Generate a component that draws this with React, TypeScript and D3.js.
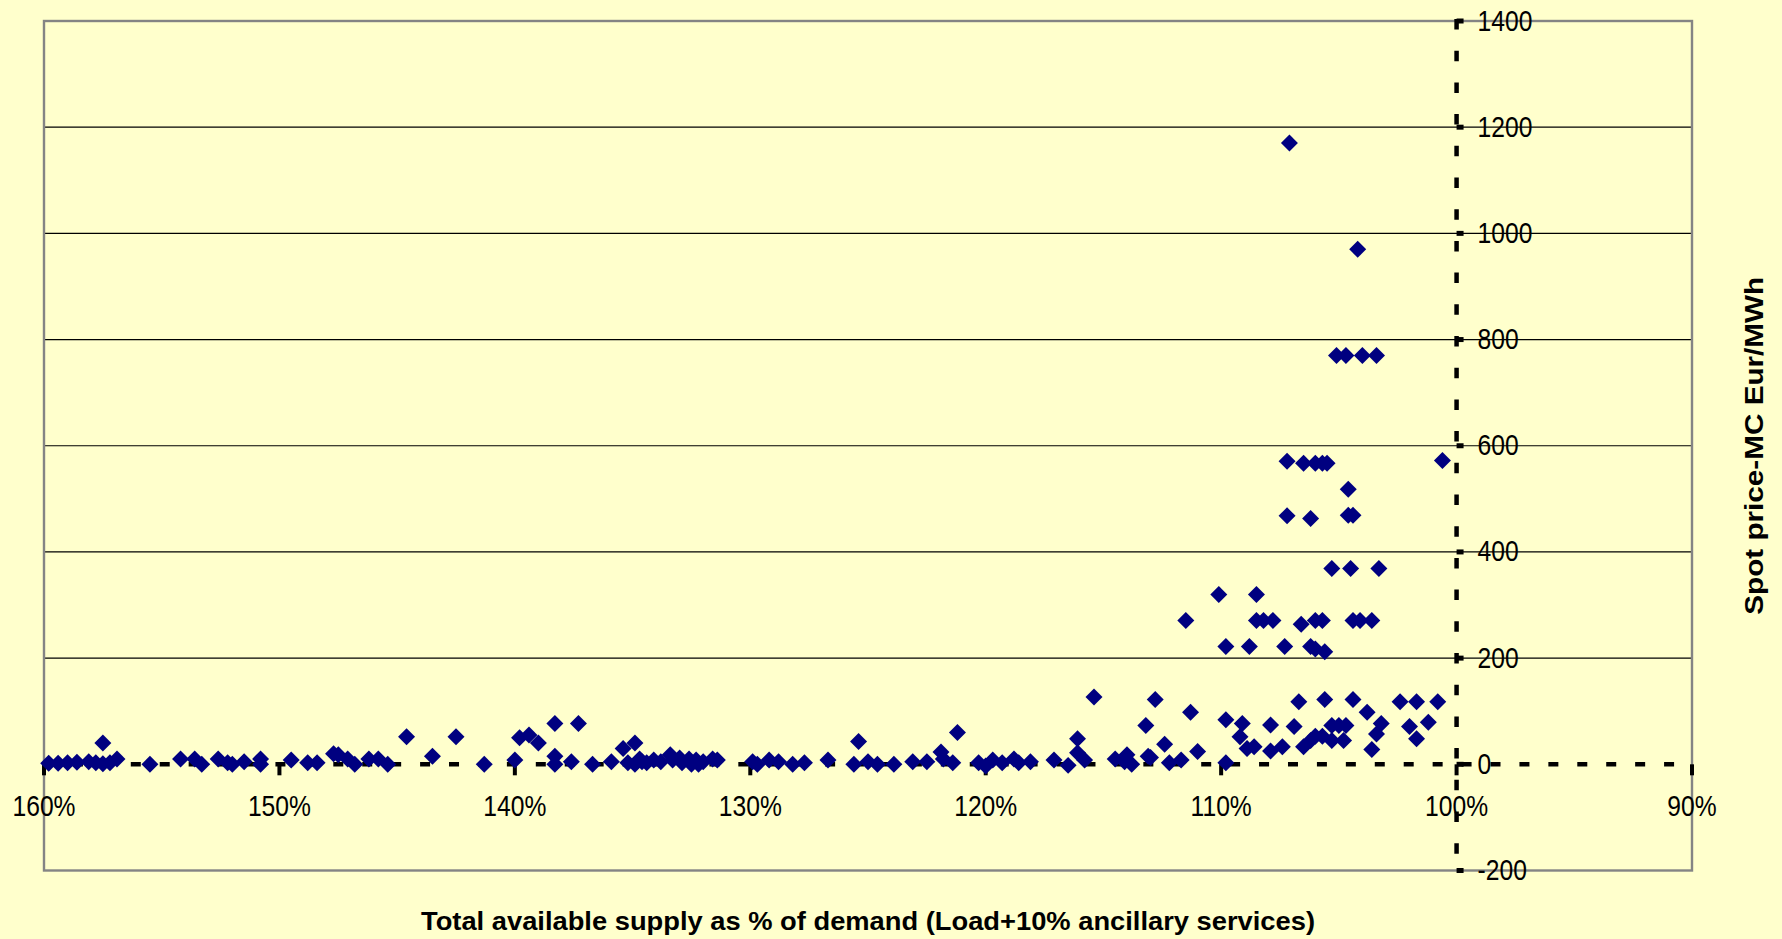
import * as d3 from "d3";

// supply as % of demand (x) and spot price minus MC in Eur/MWh (y)
const supplyPct = [
  159.8, 159.4, 159.0, 158.6, 158.1, 157.8, 157.5, 157.5, 157.2, 156.9,
  155.5, 154.2, 153.6, 153.3, 152.6, 152.2, 152.0, 151.5, 150.8, 150.8,
  149.5, 148.8, 148.4, 147.7, 147.5, 147.1, 146.8, 146.2, 145.8, 145.4,
  144.6, 143.5, 142.5, 141.3, 140.0, 139.8, 139.4, 139.0, 138.3, 138.3,
  138.3, 137.6, 137.3, 136.7, 135.9, 135.4, 134.9,
  135.2, 134.7, 134.4, 134.1, 133.8, 133.4, 133.3, 132.9, 132.6, 132.3,
  132.0, 131.6, 131.4, 134.9, 134.6, 133.0, 132.5, 132.2,
  129.9, 129.7, 129.2, 128.8, 128.2, 127.7, 126.7, 125.6, 125.4, 125.0,
  124.6, 123.9, 123.1, 122.5, 121.9, 121.8, 121.4, 121.2, 120.3, 120.0,
  119.7, 119.3, 118.8, 118.6, 118.1, 117.1, 116.5, 116.1, 116.1, 115.8,
  115.4, 114.5, 114.1, 114.0, 113.8, 113.2, 113.1,
  112.8, 112.4, 112.2, 113.0, 111.7, 111.3, 111.0, 111.5, 110.1, 109.8,
  109.8, 109.8, 109.2, 109.1, 108.9, 108.8, 108.6, 108.5, 108.5, 108.2,
  107.9, 107.9, 107.8, 107.4, 107.3, 107.2, 107.2, 107.1, 106.9, 106.7,
  106.6, 106.5, 106.5, 106.2, 106.2, 106.2, 106.0, 106.0, 106.0, 106.0,
  105.7, 105.7, 105.7, 105.6, 105.6, 105.5, 105.3, 105.3, 105.3, 105.1,
  105.0, 104.8, 104.7, 104.7, 104.6, 104.6, 104.4, 104.4, 104.4, 104.5,
  104.2, 104.1, 104.0, 103.8, 103.6, 103.6, 103.4, 103.4, 103.3, 103.2,
  102.4, 102.0, 101.7, 101.7, 101.2, 100.8, 100.6,
];
const priceDiff = [
  2, 2, 3, 4, 5, 3, 40, 1, 3, 10,
  0, 10, 10, 0, 10, 3, 0, 5, 10, 0,
  8, 3, 3, 20, 18, 10, 0, 10, 10, 0,
  52, 15, 52, 0, 8, 50, 55, 40, 77, 15,
  0, 5, 77, 0, 5, 30, 40,
  3, 10, 3, 8, 5, 18, 8, 3, 10, 8,
  5, 10, 8, 0, 5, 12, 0, 0,
  5, 0, 8, 5, 0, 3, 8, 0, 43, 5,
  0, 0, 5, 5, 23, 10, 3, 60, 3, -3,
  8, 3, 10, 3, 5, 8, -2, 22, 48, 8,
  127, 10, 5, 18, 0, 73, 15,
  122, 38, 3, 13, 8, 98, 24, 271, 320, 222,
  84, 3, 52, 77, 30, 222, 33, 320, 271, 271,
  74, 25, 271, 33, 222, 571, 468, 1170, 71, 118,
  264, 567, 33, 463, 222, 45, 567, 271, 217, 53,
  567, 271, 53, 212, 122, 567, 369, 73, 45, 770,
  73, 45, 770, 73, 518, 469, 469, 271, 122, 369,
  970, 271, 770, 98, 271, 28, 770, 57, 369, 77,
  118, 71, 118, 48, 79, 118, 572,
];

const xTicks = [160, 150, 140, 130, 120, 110, 100, 90];
const yTicks = [-200, 0, 200, 400, 600, 800, 1000, 1200, 1400];
const gridValues = [200, 400, 600, 800, 1000, 1200];

const xTitle = "Total available supply as % of demand (Load+10% ancillary services)";
const yTitle = "Spot price-MC Eur/MWh";

export default function App() {
  const width = 1782, height = 939;
  const left = 44, right = 1692, top = 21, bottom = 870.5;

  const x = d3.scaleLinear().domain([160, 90]).range([left, right]);
  const y = d3.scaleLinear().domain([-200, 1400]).range([bottom, top]);

  const diamond = d3.symbol().type(d3.symbolDiamond2).size(184)();
  const points = supplyPct.map((p, i) => [p, priceDiff[i]]);

  const font = "'Liberation Sans', Arial, sans-serif";
  const squeeze = 0.85; // the original labels use a condensed face
  const x0 = x(100), y0 = y(0);

  return (
    <svg width={width} height={height} style={{position: "absolute", left: 0, top: 0}}>
      <rect x={0} y={0} width={width} height={height} fill="#FFFFCC" />

      {/* horizontal gridlines */}
      {gridValues.map(v => (
        <line key={"g" + v} x1={left} x2={right} y1={y(v)} y2={y(v)} stroke="#000" strokeWidth={1.2} />
      ))}

      {/* plot border */}
      <rect x={left} y={top} width={right - left} height={bottom - top} fill="none" stroke="#848484" strokeWidth={2.4} />

      {/* x axis (dashed, crossing at 0) */}
      <line x1={left} x2={right} y1={y0} y2={y0} stroke="#000" strokeWidth={4.5} strokeDasharray="10 18.93" />
      {xTicks.map(t => (
        <line key={"xt" + t} x1={x(t)} x2={x(t)} y1={y0} y2={y0 + 11} stroke="#000" strokeWidth={4} />
      ))}

      {/* y axis (dashed, crossing at 100%) */}
      <line x1={x0} x2={x0} y1={top - 2} y2={bottom} stroke="#000" strokeWidth={4.5} strokeDasharray="10.5 21.2" />
      {yTicks.map(t => (
        <line key={"yt" + t} x1={x0} x2={x0 + 7} y1={y(t)} y2={y(t)} stroke="#000" strokeWidth={5} />
      ))}

      {/* points */}
      {points.map((d, i) => (
        <path key={i} d={diamond} transform={`translate(${x(d[0])},${y(d[1])})`} fill="#000080" />
      ))}

      {/* tick labels */}
      {xTicks.map(t => (
        <text key={"xl" + t} transform={`translate(${x(t)},815.5) scale(${squeeze},1)`} textAnchor="middle"
              fontFamily={font} fontSize={29} fill="#000">
          {t + "%"}
        </text>
      ))}
      {yTicks.map(t => (
        <text key={"yl" + t} transform={`translate(${x0 + 21},${y(t) + 9.5}) scale(${squeeze},1)`}
              fontFamily={font} fontSize={29} fill="#000">
          {t}
        </text>
      ))}

      {/* axis titles */}
      <text x={(left + right) / 2} y={930} textAnchor="middle" fontFamily={font} fontWeight="bold"
            fontSize={26} textLength={894} lengthAdjust="spacingAndGlyphs" fill="#000">
        {xTitle}
      </text>
      <text transform={`translate(1763,${(top + bottom) / 2}) rotate(-90)`} textAnchor="middle"
            fontFamily={font} fontWeight="bold" fontSize={25}
            textLength={338} lengthAdjust="spacingAndGlyphs" fill="#000">
        {yTitle}
      </text>
    </svg>
  );
}
